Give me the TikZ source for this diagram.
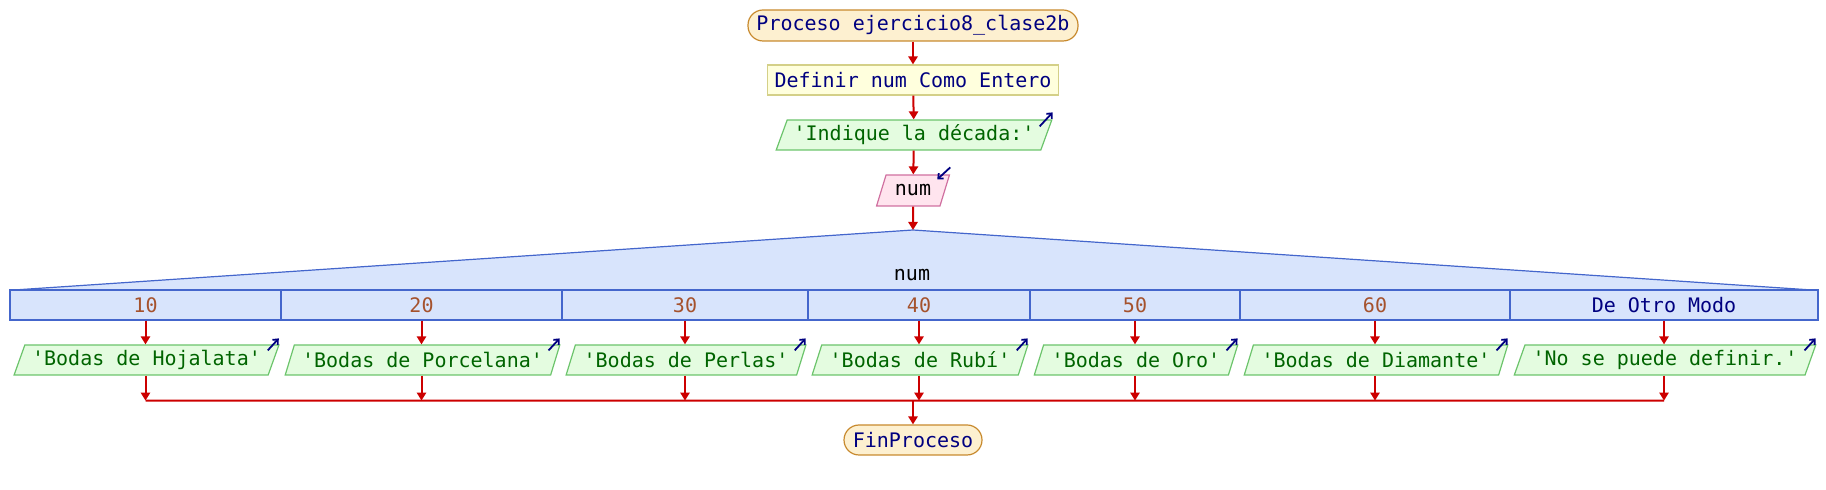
\documentclass[tikz,border=0pt]{standalone}
\usepackage{fontspec}
\setmonofont{DejaVu Sans Mono}
\usetikzlibrary{arrows.meta,positioning,shapes.geometric}

\definecolor{kwtext}{RGB}{0,0,128}
\definecolor{strtext}{RGB}{0,100,0}
\definecolor{numtext}{RGB}{165,82,45}
\definecolor{termfill}{RGB}{253,240,208}
\definecolor{termline}{RGB}{200,138,46}
\definecolor{deffill}{RGB}{255,255,221}
\definecolor{defline}{RGB}{212,208,136}
\definecolor{outfill}{RGB}{228,252,224}
\definecolor{outline}{RGB}{108,196,108}
\definecolor{infill}{RGB}{255,228,238}
\definecolor{inline}{RGB}{208,112,160}
\definecolor{swfill}{RGB}{216,228,252}
\definecolor{swline}{RGB}{68,102,204}
\definecolor{flowred}{RGB}{204,0,0}

\begin{document}
\begin{tikzpicture}
		[x=0.5pt,y=-0.5pt,font=\ttfamily\fontsize{10}{12}\selectfont,
		term/.style={draw=termline,fill=termfill,text=kwtext,line width=0.6pt,rounded corners=7.5pt,minimum height=15.5pt,inner ysep=1.5pt},
		defbox/.style={draw=defline,fill=deffill,text=kwtext,line width=0.6pt,minimum height=15pt,inner ysep=1.5pt},
		outbox/.style={trapezium,trapezium left angle=68,trapezium right angle=112,trapezium stretches=true,
			draw=outline,fill=outfill,text=strtext,line width=0.6pt,minimum height=15pt,inner xsep=1pt,inner ysep=1.5pt},
		inbox/.style={outbox,draw=inline,fill=infill,text=black},
		casecell/.style={draw=swline,fill=swfill,line width=0.6pt,minimum height=15pt,inner sep=0pt},
		flow/.style={draw=flowred,line width=1pt,-{Triangle[length=4pt,width=4.6pt]}},
		joinline/.style={draw=flowred,line width=1pt},
		icon/.style={draw=kwtext,line width=0.9pt,-{Straight Barb[length=2pt,width=3.6pt]}}]
		\useasboundingbox (0,0) rectangle (1826,490);
		
		\node[term,minimum width=165pt] (start) at (913,25.5) {Proceso ejercicio8\_clase2b};
		\node[defbox,minimum width=144pt] (def) at (913,80) {Definir num Como Entero};
		\node[outbox,minimum width=138pt] (ask) at (914,135) {'Indique la década:'};
		\node[inbox,minimum width=36.5pt,minimum height=15.5pt] (read) at (913,190.5) {num};
		
		\draw[flow] (start) -- (def);
		\draw[flow] (def) -- (ask);
		\draw[flow] (ask) -- (read);
		\draw[icon] ([shift={(-13,7)}]ask.top right corner) -- ++(13,-14);
		\draw[icon] ([shift={(0,-7)}]read.top right corner) -- ++(-13,12);
		
		% segun
		\coordinate (top) at (913,230);
		\path[draw=swline,fill=swfill,line width=0.6pt] (14,290) -- (top) -- (1812,290) -- cycle;
		\draw[flow] (read) -- (top);
		\node (var) at (912,275) {num};
		
		\foreach \l/\r/\v/\c/\txt [count=\i] in {
			10/281/10/numtext/{'Bodas de Hojalata'},
			281/562/20/numtext/{'Bodas de Porcelana'},
			562/808/30/numtext/{'Bodas de Perlas'},
			808/1030/40/numtext/{'Bodas de Rubí'},
			1030/1240/50/numtext/{'Bodas de Oro'},
			1240/1510/60/numtext/{'Bodas de Diamante'},
			1510/1818/De Otro Modo/kwtext/{'No se puede definir.'}}
		{
			\pgfmathsetmacro\cw{(\r-\l)*0.5}
			\pgfmathsetmacro\ow{(\r-\l-6)*0.5}
			\node[casecell,minimum width=\cw pt,text=\c] (c\i) at ({(\l+\r)/2},305) {\v};
			\node[outbox,minimum width=\ow pt] (o\i) at ({(\l+\r)/2+1},360) {\txt};
			\draw[flow] (c\i.south) -- (c\i.south |- o\i.north);
			\draw[icon] ([shift={(-12,6)}]o\i.top right corner) -- ++(11,-12);
			\draw[flow] (c\i.south |- o\i.south) -- ++(0,25) coordinate (j\i);
		}
		\draw[joinline] (j1) -- (j7);
		
		\node[term,minimum width=69pt,minimum height=15pt] (fin) at (913,440) {FinProceso};
		\draw[flow] (fin.north |- j1) -- (fin);
\end{tikzpicture}
\end{document}
